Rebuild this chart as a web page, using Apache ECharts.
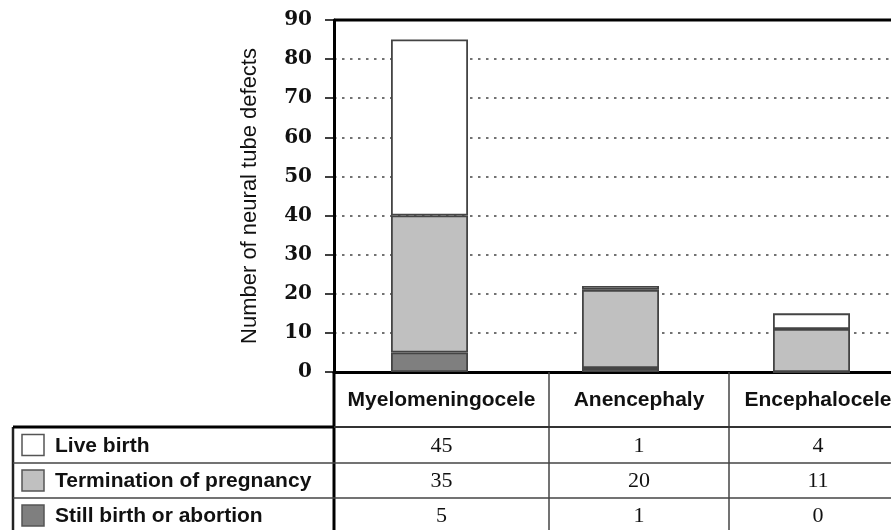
<!DOCTYPE html>
<html>
<head>
<meta charset="utf-8">
<script src="https://cdn.jsdelivr.net/npm/echarts@6/dist/echarts.min.js"></script>
<style>
  html, body { margin: 0; padding: 0; background: #fff; }
  #chart { width: 891px; height: 530px; }
</style>
</head>
<body>
<div id="chart"></div>
<script>
// data
var categories = ['Myelomeningocele', 'Anencephaly', 'Encephalocele'];
var seriesNames = ['Live birth', 'Termination of pregnancy', 'Still birth or abortion'];
var liveBirth = [45, 1, 4];
var termination = [35, 20, 11];
var stillBirth = [5, 1, 0];
var yTicks = [0, 10, 20, 30, 40, 50, 60, 70, 80, 90];

var colors = ['#ffffff', '#c0c0c0', '#7f7f7f'];
var rows = [liveBirth, termination, stillBirth];

// table layout (pixels)
var plotLeft = 334, plotTop = 20, axisY = 372;
var colEdges = [334, 549, 729, 907];
var rowEdges = [427, 463, 498, 533];
var tableLeft = 13;

var chart = echarts.init(document.getElementById('chart'));

function buildTable() {
  var g = [];
  // top border of plot
  g.push({ type: 'line', shape: { x1: plotLeft, y1: plotTop, x2: 891, y2: plotTop }, style: { stroke: '#000', lineWidth: 3 }, z: 10 });
  // left thick line down through table
  g.push({ type: 'line', shape: { x1: plotLeft, y1: axisY, x2: plotLeft, y2: 530 }, style: { stroke: '#000', lineWidth: 3 }, z: 10 });
  // column dividers
  for (var c = 1; c < colEdges.length - 1; c++) {
    g.push({ type: 'line', shape: { x1: colEdges[c], y1: axisY, x2: colEdges[c], y2: 530 }, style: { stroke: '#444', lineWidth: 1.5 }, z: 10 });
  }
  // left table border
  g.push({ type: 'line', shape: { x1: tableLeft, y1: rowEdges[0], x2: tableLeft, y2: 530 }, style: { stroke: '#222', lineWidth: 2.5 }, z: 10 });
  // row lines
  g.push({ type: 'line', shape: { x1: tableLeft, y1: rowEdges[0], x2: plotLeft, y2: rowEdges[0] }, style: { stroke: '#000', lineWidth: 3 }, z: 10 });
  g.push({ type: 'line', shape: { x1: plotLeft, y1: rowEdges[0], x2: 891, y2: rowEdges[0] }, style: { stroke: '#333', lineWidth: 2 }, z: 10 });
  for (var r = 1; r < rowEdges.length - 1; r++) {
    g.push({ type: 'line', shape: { x1: tableLeft, y1: rowEdges[r], x2: 891, y2: rowEdges[r] }, style: { stroke: '#444', lineWidth: 1.5 }, z: 10 });
  }
  // header
  for (var i = 0; i < categories.length; i++) {
    g.push({
      type: 'text', z: 11,
      x: (colEdges[i] + colEdges[i + 1]) / 2, y: (axisY + rowEdges[0]) / 2 + 1,
      style: { text: categories[i], align: 'center', verticalAlign: 'middle', fill: '#111',
        font: 'bold 21px "Liberation Sans", Arial, sans-serif' }
    });
  }
  // rows
  for (var r = 0; r < rows.length; r++) {
    var cy = (rowEdges[r] + rowEdges[r + 1]) / 2;
    g.push({ type: 'rect', z: 11, shape: { x: 22, y: cy - 10.5, width: 22, height: 21 },
      style: { fill: colors[r], stroke: '#555', lineWidth: 1.5 } });
    g.push({ type: 'text', z: 11, x: 55, y: cy + 1,
      style: { text: seriesNames[r], align: 'left', verticalAlign: 'middle', fill: '#111',
        font: 'bold 21px "Liberation Sans", Arial, sans-serif' } });
    for (var i = 0; i < categories.length; i++) {
      g.push({ type: 'text', z: 11,
        x: (colEdges[i] + colEdges[i + 1]) / 2, y: cy + 1,
        style: { text: String(rows[r][i]), align: 'center', verticalAlign: 'middle', fill: '#111',
          font: '22px "Liberation Serif", "Times New Roman", serif' } });
    }
  }
  return g;
}

var barStyle = function (c) {
  return { color: c, borderColor: '#444', borderWidth: 1.8 };
};

chart.setOption({
  animation: false,
  grid: {
    left: plotLeft, top: plotTop, width: colEdges[3] - plotLeft, bottom: 530 - axisY,
    outerBoundsMode: 'none', containLabel: false
  },
  xAxis: {
    type: 'category',
    data: categories,
    axisLine: { lineStyle: { color: '#000', width: 3 } },
    axisTick: { show: false },
    axisLabel: { show: false }
  },
  yAxis: {
    type: 'value',
    min: yTicks[0],
    max: yTicks[yTicks.length - 1],
    interval: 10,
    name: 'Number of neural tube defects',
    nameLocation: 'middle',
    nameGap: 73,
    nameTextStyle: { fontFamily: '"Liberation Sans", Arial, sans-serif', fontSize: 22, color: '#111' },
    axisLine: { show: true, lineStyle: { color: '#000', width: 3 } },
    axisTick: { show: true, length: 9, lineStyle: { color: '#000', width: 1.5 } },
    axisLabel: {
      margin: 22,
      padding: [4, 0, 0, 0],
      fontFamily: '"DejaVu Serif", serif',
      fontWeight: 'bold',
      fontSize: 20,
      color: '#111'
    },
    splitLine: {
      show: true,
      lineStyle: { color: '#444', type: [2.5, 5.5], width: 1.5 }
    }
  },
  series: [
    { name: seriesNames[2], type: 'bar', stack: 'all', data: stillBirth, barWidth: 77, itemStyle: barStyle(colors[2]) },
    { name: seriesNames[1], type: 'bar', stack: 'all', data: termination, barWidth: 77, itemStyle: barStyle(colors[1]) },
    { name: seriesNames[0], type: 'bar', stack: 'all', data: liveBirth, barWidth: 77, itemStyle: barStyle(colors[0]) }
  ],
  graphic: buildTable()
});
</script>
</body>
</html>
